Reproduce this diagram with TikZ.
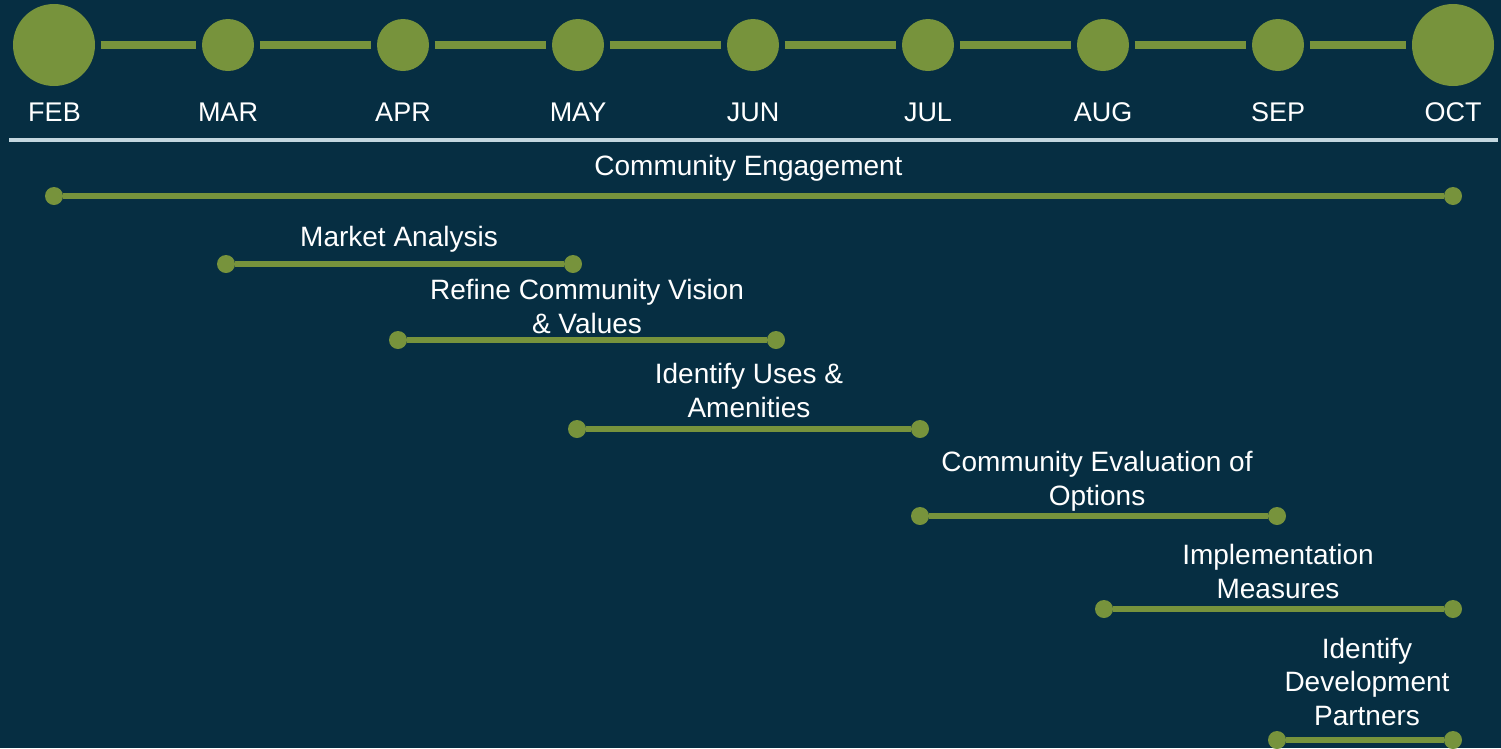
\documentclass[tikz,border=0pt]{standalone}
\usepackage{fontspec}
\setmainfont{Liberation Sans}
\definecolor{bgcol}{HTML}{062E42}
\definecolor{grn}{HTML}{77933C}
\definecolor{sepcol}{HTML}{C3D7DF}
\begin{document}
\begin{tikzpicture}[x=1pt,y=-1pt,
  bigm/.style={circle,fill=grn,draw=none,minimum size=82pt,inner sep=0pt},
  smallm/.style={circle,fill=grn,draw=none,minimum size=52pt,inner sep=0pt},
  mconn/.style={draw=grn,line width=8pt,shorten <=5.5pt,shorten >=5.5pt},
  mlabel/.style={text=white,font=\fontsize{27}{32}\selectfont,anchor=base,inner sep=0pt},
  tlabel/.style={text=white,font=\fontsize{28}{33.5}\selectfont,anchor=base,align=center,inner sep=0pt},
  enddot/.style={circle,fill=grn,draw=none,minimum size=18pt,inner sep=0pt},
  tbar/.style={draw=grn,line width=6pt}]
\fill[bgcol] (0,0) rectangle (1501,748);
\useasboundingbox (0,0) rectangle (1501,748);
% month markers
\node[bigm]   (feb) at (54,45) {};
\node[smallm] (mar) at (228,45) {};
\node[smallm] (apr) at (403,45) {};
\node[smallm] (may) at (578,45) {};
\node[smallm] (jun) at (753,45) {};
\node[smallm] (jul) at (928,45) {};
\node[smallm] (aug) at (1103,45) {};
\node[smallm] (sep) at (1278,45) {};
\node[bigm]   (oct) at (1453,45) {};
\foreach \a/\b in {feb/mar,mar/apr,apr/may,may/jun,jun/jul,jul/aug,aug/sep,sep/oct}
  \draw[mconn] (\a) -- (\b);
\node[mlabel] (lfeb) at (54.5,121) {FEB};
\node[mlabel] (lmar) at (228,121) {MAR};
\node[mlabel] (lapr) at (403,121) {APR};
\node[mlabel] (lmay) at (578,121) {MAY};
\node[mlabel] (ljun) at (753,121) {JUN};
\node[mlabel] (ljul) at (928,121) {JUL};
\node[mlabel] (laug) at (1103,121) {AUG};
\node[mlabel] (lsep) at (1278,121) {SEP};
\node[mlabel] (loct) at (1453,121) {OCT};
% separator
\coordinate (s1) at (9,140);
\coordinate (s2) at (1498,140);
\draw[sepcol,line width=4pt] (s1) -- (s2);
% tasks (label anchor = baseline of the last line)
\node[tlabel] (tce) at (748.5,175) {Community Engagement};
\node[enddot] (ce1) at (54,196) {};
\node[enddot] (ce2) at (1453,196) {};
\draw[tbar] (ce1) -- (ce2);

\node[tlabel] (tma) at (399,246) {Market Analysis};
\node[enddot] (ma1) at (226,264) {};
\node[enddot] (ma2) at (573,264) {};
\draw[tbar] (ma1) -- (ma2);

\node[tlabel] (trv) at (587,333) {Refine Community Vision\\ \& Values};
\node[enddot] (rv1) at (398,340) {};
\node[enddot] (rv2) at (776,340) {};
\draw[tbar] (rv1) -- (rv2);

\node[tlabel] (tua) at (749,417) {Identify Uses \&\\ Amenities};
\node[enddot] (ua1) at (577,429) {};
\node[enddot] (ua2) at (920,429) {};
\draw[tbar] (ua1) -- (ua2);

\node[tlabel] (teo) at (1097,505) {Community Evaluation of\\ Options};
\node[enddot] (eo1) at (920,516) {};
\node[enddot] (eo2) at (1277,516) {};
\draw[tbar] (eo1) -- (eo2);

\node[tlabel] (tim) at (1278,598) {Implementation\\ Measures};
\node[enddot] (im1) at (1104,609) {};
\node[enddot] (im2) at (1453,609) {};
\draw[tbar] (im1) -- (im2);

\node[tlabel] (tdp) at (1367,725) {Identify\\ Development\\ Partners};
\node[enddot] (dp1) at (1277,740) {};
\node[enddot] (dp2) at (1453,740) {};
\draw[tbar] (dp1) -- (dp2);
\end{tikzpicture}
\end{document}
